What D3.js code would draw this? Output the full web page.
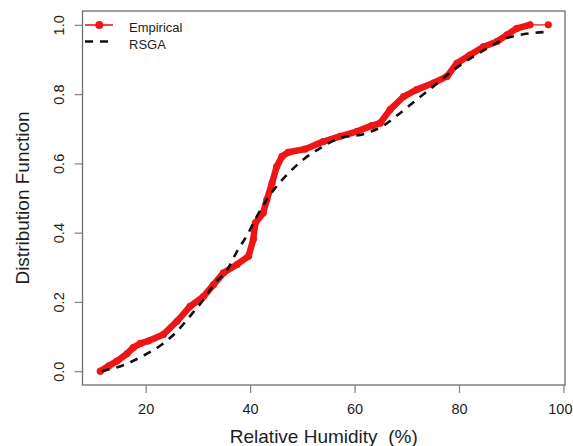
<!DOCTYPE html>
<html lang="en">
	<head>
		<meta charset="utf-8">
		<title>Relative Humidity CDF</title>
		<script type="text/javascript" src="https://cdn.jsdelivr.net/npm/d3@7"></script>
		<style type="text/css">
			body { margin: 0; background: #fff; }
			text { font-family: "Liberation Sans", Arial, sans-serif; }
		</style>
	</head>
	<body>
		<script type="text/javascript">

			var width = 573;
			var height = 446;

			// empirical distribution
			var empHumidity = [11.3, 13.0, 14.5, 16.4, 17.6, 19.0, 20.5, 23.4, 26.0, 28.5, 31.1, 33.0, 34.9, 37.5, 39.7,
				40.6, 41.0, 42.5, 43.2, 44.2, 45.1, 46.1, 47.3, 50.5, 54.0, 57.2, 60.4, 63.3, 64.9, 66.8,
				69.4, 71.9, 75.1, 77.7, 79.6, 82.1, 84.7, 87.3, 89.2, 91.1, 93.6, 97.1];
			var empCDF = [0.0, 0.016, 0.029, 0.05, 0.068, 0.08, 0.087, 0.106, 0.144, 0.187, 0.216, 0.25, 0.284, 0.308, 0.332,
				0.38, 0.428, 0.457, 0.495, 0.543, 0.591, 0.62, 0.632, 0.641, 0.663, 0.678, 0.692, 0.709, 0.716, 0.755,
				0.793, 0.813, 0.832, 0.851, 0.889, 0.913, 0.937, 0.952, 0.971, 0.99, 1.0, 1.0];
			// where the dots thin out and only the line joins them
			var empBreaks = [47.3, 93.6];

			// fitted RSGA curve
			var rsgaHumidity = [11.6, 15.7, 19.6, 23.1, 26.0, 28.5, 31.1, 33.3, 35.5, 37.5, 39.4, 41.3, 43.2, 45.4, 47.7,
				50.5, 53.0, 57.0, 61.8, 65.5, 68.7, 71.9, 75.1, 79.0, 82.8, 86.0, 88.5, 91.7, 94.0, 97.0];
			var rsgaCDF = [0.0, 0.017, 0.045, 0.077, 0.115, 0.159, 0.207, 0.255, 0.29, 0.346, 0.392, 0.447, 0.495, 0.54, 0.577,
				0.615, 0.64, 0.672, 0.685, 0.709, 0.745, 0.784, 0.822, 0.87, 0.909, 0.937, 0.958, 0.971, 0.976, 0.98];

			var xTicks = [20, 40, 60, 80, 100];
			var yTicks = [0, 0.2, 0.4, 0.6, 0.8, 1.0];

			var svg = d3.select("body")
						.append("svg")
						.attr("width", width)
						.attr("height", height);

			var xScale = d3.scaleLinear().domain([7.9, 100.3]).range([82.5, 565]);
			var yScale = d3.scaleLinear().domain([-0.04, 1.04]).range([385, 11]);

			var boxColor = "#6f6f6f";
			var textColor = "#1e1e1e";

			// x axis
			var xAxis = svg.append("g")
				.attr("transform", "translate(0," + yScale.range()[0] + ")")
				.call(d3.axisBottom(xScale).tickValues(xTicks).tickSize(8));
			xAxis.select(".domain").remove();
			xAxis.selectAll("line").attr("stroke", "#8a8a8a").attr("stroke-width", 1.3);
			xAxis.selectAll("text")
				.attr("y", 29).attr("dy", null)
				.attr("fill", textColor)
				.style("font-size", "14.5px");
			// keep the last label inside the window
			xAxis.selectAll("text").each(function(d) {
				var half = this.getComputedTextLength() / 2;
				var over = xScale(d) + half - (width - 1);
				if (over > 0) d3.select(this).attr("x", -over);
			});

			// y axis, labels turned like R's las=0
			var yAxis = svg.append("g")
				.attr("transform", "translate(" + xScale.range()[0] + ",0)")
				.call(d3.axisLeft(yScale).tickValues(yTicks).tickSize(8).tickFormat(d3.format(".1f")));
			yAxis.select(".domain").remove();
			yAxis.selectAll("line").attr("stroke", "#8a8a8a").attr("stroke-width", 1.3);
			yAxis.selectAll("text")
				.attr("x", 0).attr("y", -19).attr("dy", null)
				.attr("transform", "rotate(-90)")
				.attr("text-anchor", "middle")
				.attr("fill", textColor)
				.style("font-size", "14.5px");

			// plot box
			svg.append("rect")
				.attr("x", xScale.range()[0])
				.attr("y", yScale.range()[1])
				.attr("width", xScale.range()[1] - xScale.range()[0])
				.attr("height", yScale.range()[0] - yScale.range()[1])
				.attr("fill", "none")
				.attr("stroke", boxColor)
				.attr("stroke-width", 1.3);

			// axis titles
			svg.append("text")
				.attr("x", (xScale.range()[0] + xScale.range()[1]) / 2)
				.attr("y", 443)
				.attr("text-anchor", "middle")
				.attr("fill", textColor)
				.style("font-size", "19px")
				.style("white-space", "pre")
				.text("Relative Humidity  (%)");

			svg.append("text")
				.attr("transform", "translate(29," + ((yScale.range()[0] + yScale.range()[1]) / 2) + ") rotate(-90)")
				.attr("text-anchor", "middle")
				.attr("fill", textColor)
				.style("font-size", "19px")
				.text("Distribution Function");

			var red = "#f01414";

			var emp = empHumidity.map(function(d, i) { return {x: d, y: empCDF[i]}; });
			var rsga = rsgaHumidity.map(function(d, i) { return {x: d, y: rsgaCDF[i]}; });

			// split the empirical points into dense runs
			var runs = [[]];
			emp.forEach(function(p) {
				runs[runs.length - 1].push(p);
				if (empBreaks.indexOf(p.x) >= 0) runs.push([p]);
			});

			var line = d3.line()
				.x(function(d) { return xScale(d.x); })
				.y(function(d) { return yScale(d.y); });

			// thin joining line
			svg.append("path")
				.datum(emp)
				.attr("d", line)
				.attr("fill", "none")
				.attr("stroke", red)
				.attr("stroke-width", 1.3);

			// dense dots read as a thick band
			svg.selectAll("path.run").data(runs.filter(function(r) { return r.length > 2; })).enter()
				.append("path")
				.attr("class", "run")
				.attr("d", line)
				.attr("fill", "none")
				.attr("stroke", red)
				.attr("stroke-width", 6.5)
				.attr("stroke-linejoin", "round")
				.attr("stroke-linecap", "round");

			svg.selectAll("circle.emp").data(emp).enter()
				.append("circle")
				.attr("class", "emp")
				.attr("cx", function(d) { return xScale(d.x); })
				.attr("cy", function(d) { return yScale(d.y); })
				.attr("r", 3.6)
				.attr("fill", red);

			// RSGA dashed curve
			svg.append("path")
				.datum(rsga)
				.attr("d", line.curve(d3.curveMonotoneX))
				.attr("fill", "none")
				.attr("stroke", "#111")
				.attr("stroke-width", 2.6)
				.attr("stroke-dasharray", "8,7");

			// legend (no box)
			var legend = svg.append("g");
			legend.append("line")
				.attr("x1", 85).attr("x2", 113).attr("y1", 25).attr("y2", 25)
				.attr("stroke", red).attr("stroke-width", 1.6);
			legend.append("circle")
				.attr("cx", 99.3).attr("cy", 25).attr("r", 4)
				.attr("fill", red);
			legend.append("line")
				.attr("x1", 85).attr("x2", 113).attr("y1", 41.5).attr("y2", 41.5)
				.attr("stroke", "#111").attr("stroke-width", 2.6)
				.attr("stroke-dasharray", "8,7");
			legend.append("text")
				.attr("x", 129).attr("y", 32)
				.attr("fill", textColor)
				.style("font-size", "13px")
				.text("Empirical");
			legend.append("text")
				.attr("x", 129).attr("y", 48.5)
				.attr("fill", textColor)
				.style("font-size", "13px")
				.text("RSGA");

		</script>
	</body>
</html>
